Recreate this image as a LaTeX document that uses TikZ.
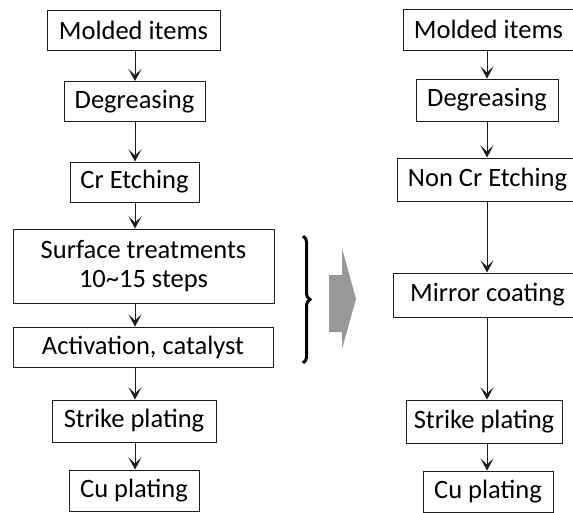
\documentclass[tikz,border=0pt]{standalone}
\usepackage{fontspec}
\setmainfont{Carlito}
\usetikzlibrary{arrows.meta,decorations.pathreplacing}
\definecolor{arrgray}{RGB}{152,152,152}
\definecolor{linec}{RGB}{30,30,30}
\tikzset{
  stepbox/.style={draw=linec, line width=1pt, inner sep=0pt, align=center, font=\fontsize{26.5}{29}\selectfont, text=black},
  flow/.style={draw=linec, line width=1pt, -{Stealth[length=12pt,width=13pt,inset=6pt]}}
}
\begin{document}
\begin{tikzpicture}[x=1pt,y=-1pt]
\useasboundingbox (0,0) rectangle (573,512);
% left column
\node[stepbox, minimum width=173pt, minimum height=40pt] (m1) at (133.5,30) {Molded items};
\node[stepbox, minimum width=141pt, minimum height=40pt] (d1) at (134.5,101.5) {Degreasing};
\node[stepbox, minimum width=129pt, minimum height=40pt] (c1) at (134.5,182) {Cr Etching};
\node[stepbox, minimum width=261pt, minimum height=74pt] (s1) at (143.5,266) {Surface treatments\\10\char`~15 steps};
\node[stepbox, minimum width=260pt, minimum height=40pt] (a1) at (143,347) {Activation, catalyst};
\node[stepbox, minimum width=164pt, minimum height=42pt] (st1) at (134,421) {Strike plating};
\node[stepbox, minimum width=130pt, minimum height=41pt] (cu1) at (134,490.5) {Cu plating};
\coordinate (L1) at (135,0);
\draw[flow] (m1.south -| L1) -- (d1.north -| L1);
\draw[flow] (d1.south -| L1) -- (c1.north -| L1);
\draw[flow] (c1.south -| L1) -- (s1.north -| L1);
\draw[flow] (s1.south -| L1) -- (a1.north -| L1);
\draw[flow] (a1.south -| L1) -- (st1.north -| L1);
\draw[flow] (st1.south -| L1) -- (cu1.north -| L1);
% right column
\node[stepbox, minimum width=171pt, minimum height=41pt] (m2) at (488.5,29.5) {Molded items};
\node[stepbox, minimum width=142pt, minimum height=42pt] (d2) at (487,100) {Degreasing};
\node[stepbox, minimum width=181pt, minimum height=43pt] (n2) at (487.5,179.5) {Non Cr Etching};
\node[stepbox, minimum width=189pt, minimum height=44pt] (mi2) at (487.5,295) {Mirror coating};
\node[stepbox, minimum width=156pt, minimum height=43pt] (st2) at (484,421.5) {Strike plating};
\node[stepbox, minimum width=130pt, minimum height=41pt] (cu2) at (488,491.5) {Cu plating};
\coordinate (R1) at (487,0);
\draw[flow] (m2.south -| R1) -- (d2.north -| R1);
\draw[flow] (d2.south -| R1) -- (n2.north -| R1);
\draw[flow] (n2.south -| R1) -- (mi2.north -| R1);
\draw[flow] (mi2.south -| R1) -- (st2.north -| R1);
\draw[flow] (st2.south -| R1) -- (cu2.north -| R1);
% brace
\coordinate (bt) at (303,236);
\coordinate (bb) at (303,363);
\draw[black, line width=3pt, decorate, decoration={brace, amplitude=7pt}] (bt) -- (bb);
% gray block arrow
\fill[arrgray] (329,275) -- (342,275) -- (342,248) -- (356,299) -- (342,349) -- (342,332) -- (329,332) -- cycle;
\end{tikzpicture}
\end{document}
